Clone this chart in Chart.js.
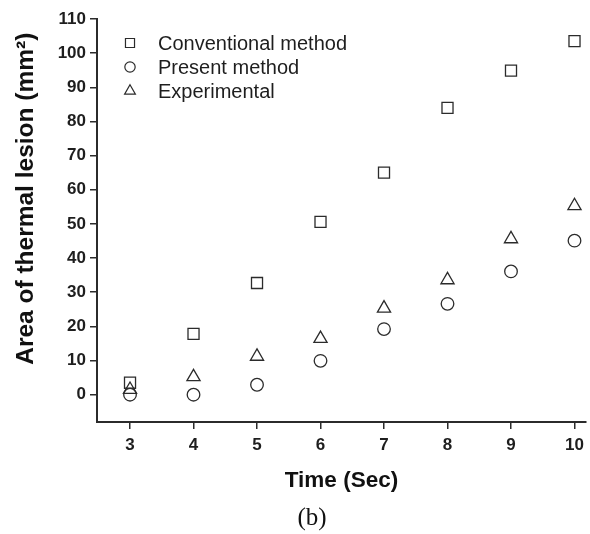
<!DOCTYPE html>
<html>
<head>
<meta charset="utf-8">
<script src="https://cdn.jsdelivr.net/npm/chart.js@4/dist/chart.umd.min.js"></script>
<style>
  html, body { margin: 0; padding: 0; background: #ffffff; }
  #wrap { position: relative; width: 590px; height: 534px; }
</style>
</head>
<body>
<div id="wrap"><canvas id="c" width="590" height="534"></canvas></div>
<script>
// ---- data ----
const times = [3, 4, 5, 6, 7, 8, 9, 10];
const conventional = [3.5, 17.8, 32.7, 50.6, 65.0, 84.0, 94.9, 103.5];
const present = [0.0, 0.0, 2.9, 9.9, 19.2, 26.6, 36.1, 45.1];
const experimental = [1.5, 5.2, 11.2, 16.4, 25.3, 33.6, 45.6, 55.3];
const seriesNames = ['Conventional method', 'Present method', 'Experimental'];
const xTicks = [3, 4, 5, 6, 7, 8, 9, 10];
const yTicks = [0, 10, 20, 30, 40, 50, 60, 70, 80, 90, 100, 110];
const xTitle = 'Time (Sec)';
const yTitle = 'Area of thermal lesion (mm\u00B2)  ';
const caption = '(b)';

const ink = '#2b2b2b';
const toPts = (vals) => times.map((t, i) => ({ x: t, y: vals[i] }));

const styles = [
  { pointStyle: 'rect', radius: 7.8 },
  { pointStyle: 'circle', radius: 6.3 },
  { pointStyle: 'triangle', radius: 7.6 }
];
const seriesVals = [conventional, present, experimental];

const datasets = seriesVals.map((v, i) => ({
  label: seriesNames[i],
  data: toPts(v),
  showLine: false,
  pointStyle: styles[i].pointStyle,
  pointRadius: styles[i].radius,
  pointHoverRadius: styles[i].radius,
  pointBorderWidth: 1.3,
  pointBorderColor: ink,
  pointBackgroundColor: 'rgba(255,255,255,0)'
}));

function drawMarker(ctx, style, r, x, y) {
  ctx.beginPath();
  if (style === 'rect') {
    const s = Math.SQRT1_2 * r;
    ctx.rect(x - s, y - s, 2 * s, 2 * s);
  } else if (style === 'circle') {
    ctx.arc(x, y, r, 0, Math.PI * 2);
  } else {
    let a = 0;
    ctx.moveTo(x + Math.sin(a) * r, y - Math.cos(a) * r);
    a += 2 * Math.PI / 3;
    ctx.lineTo(x + Math.sin(a) * r, y - Math.cos(a) * r);
    a += 2 * Math.PI / 3;
    ctx.lineTo(x + Math.sin(a) * r, y - Math.cos(a) * r);
    ctx.closePath();
  }
  ctx.stroke();
}

const legendAndCaption = {
  id: 'legendAndCaption',
  afterDraw(chart) {
    const ctx = chart.ctx;
    ctx.save();
    ctx.strokeStyle = ink;
    ctx.lineWidth = 1.2;
    ctx.fillStyle = '#1e1e1e';
    ctx.font = '20px "Liberation Sans", Arial, sans-serif';
    ctx.textBaseline = 'middle';
    ctx.textAlign = 'left';
    const rows = [43, 67, 91];
    chart.data.datasets.forEach((ds, i) => {
      const r = styles[i].radius * 0.82;
      drawMarker(ctx, styles[i].pointStyle, r, 130, rows[i]);
      ctx.fillText(ds.label, 158, rows[i] + 1);
    });
    ctx.font = '25px "Liberation Serif", "Times New Roman", serif';
    ctx.textAlign = 'center';
    ctx.fillStyle = '#111';
    ctx.fillText(caption, 312, 518);
    ctx.restore();
  }
};

new Chart(document.getElementById('c'), {
  type: 'scatter',
  data: { datasets },
  plugins: [legendAndCaption],
  options: {
    responsive: false,
    animation: false,
    devicePixelRatio: 1,
    layout: { autoPadding: false, padding: { top: 19, right: 2, bottom: 36, left: 0 } },
    plugins: { legend: { display: false }, tooltip: { enabled: false }, title: { display: false } },
    scales: {
      x: {
        type: 'linear',
        min: 2.48,
        max: 10.18,
        afterBuildTicks: (s) => { s.ticks = xTicks.map(v => ({ value: v })); },
        afterFit: (s) => { s.height = 76; },
        grid: { display: true, drawOnChartArea: false, drawTicks: true, tickLength: 7, color: ink, lineWidth: 1.5 },
        border: { display: true, color: ink, width: 2 },
        ticks: {
          color: '#1e1e1e',
          padding: 6,
          maxRotation: 0,
          font: { family: '"Liberation Sans", Arial, sans-serif', size: 17, weight: 'bold' }
        },
        title: {
          display: true,
          text: xTitle,
          color: '#111',
          padding: { top: 0, bottom: 4 },
          font: { family: '"Liberation Sans", Arial, sans-serif', size: 22.5, weight: 'bold' }
        }
      },
      y: {
        type: 'linear',
        min: -8,
        max: 110,
        afterBuildTicks: (s) => { s.ticks = yTicks.map(v => ({ value: v })); },
        afterFit: (s) => { s.width = 97; },
        grid: { display: true, drawOnChartArea: false, drawTicks: true, tickLength: 7, color: ink, lineWidth: 1.5 },
        border: { display: true, color: ink, width: 2 },
        ticks: {
          color: '#1e1e1e',
          padding: 4,
          font: { family: '"Liberation Sans", Arial, sans-serif', size: 17, weight: 'bold' }
        },
        title: {
          display: true,
          text: yTitle,
          align: 'end',
          color: '#111',
          padding: { top: 12, bottom: 0 },
          font: { family: '"Liberation Sans", Arial, sans-serif', size: 24.5, weight: 'bold' }
        }
      }
    }
  }
});
</script>
</body>
</html>
